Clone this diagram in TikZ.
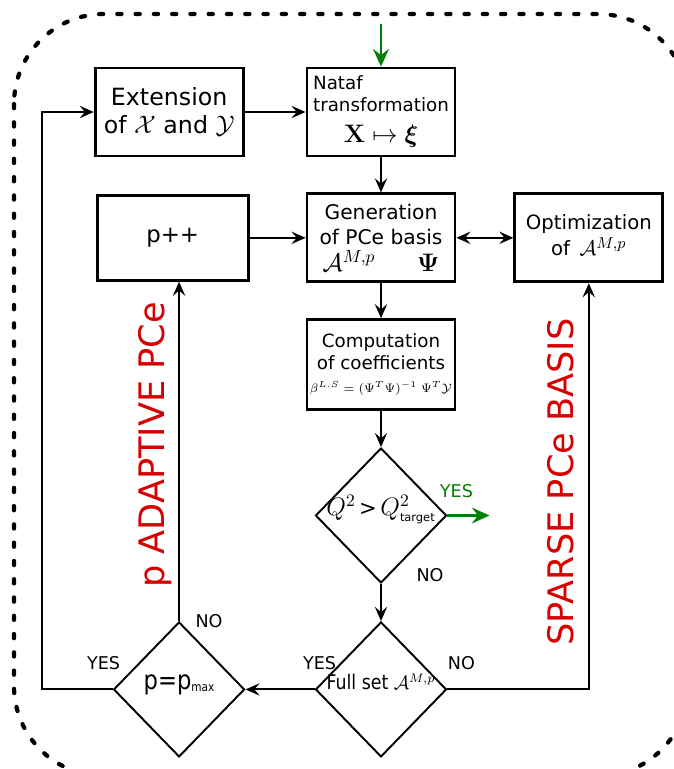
\documentclass[tikz,border=0pt]{standalone}
\usepackage{amsmath,bm}
\usepackage[no-math]{fontspec}
\setmainfont{DejaVu Sans}
\newfontfamily\condfont[FakeStretch=0.86]{DejaVu Sans}
\usepackage{xcolor}
\usetikzlibrary{positioning, shapes.geometric, arrows.meta, calc}
\definecolor{tagred}{RGB}{214,0,0}
\definecolor{yesgreen}{RGB}{0,128,0}
\newcommand{\fixedtext}[1]{\makebox[1.8cm]{\smash{#1}}}

\begin{document}
\begin{tikzpicture}[
    block/.style={rectangle, draw=black, line width=1.6pt, minimum width=2.96cm, minimum height=1.76cm, align=center, inner sep=1pt},
    decision/.style={diamond, draw=black, line width=1.1pt, minimum width=2.62cm, minimum height=2.70cm, aspect=1, inner sep=0pt, align=center},
    arr/.style={line width=1.1pt, -{Stealth[length=8pt, width=7pt, inset=3pt]}},
    biarr/.style={line width=1.1pt, {Stealth[length=8pt, width=7pt, inset=3pt]}-{Stealth[length=8pt, width=7pt, inset=3pt]}},
    greenarr/.style={line width=1.7pt, yesgreen, -{Stealth[length=10pt, width=9pt, inset=3.5pt]}},
    lbl/.style={font=\fontsize{10}{11}\selectfont, inner sep=0pt},
    tag/.style={font=\fontsize{20}{22}\selectfont, text=tagred, rotate=90},
    node distance=0.70cm and 1.15cm
]
    \useasboundingbox (0,0) rectangle (13.48,-15.38);
    \begin{scope}
        \clip (0,0) rectangle (13.48,-15.38);
        \draw[line width=2.4pt, dash pattern=on 2.4pt off 8pt, line cap=round, rounded corners=1.8cm] (0.28,-0.28) rectangle (13.76,-15.52);
    \end{scope}

    % boxes
    \node[block, font=\fontsize{10.4}{12.5}\selectfont] (nataf) at (7.62,-2.24) {\begin{tabular}{@{}l@{}}Nataf\\transformation\\[4pt]\multicolumn{1}{@{}c@{}}{\fontsize{15}{16}\selectfont$\mathbf{X}\mapsto\bm{\xi}$}\end{tabular}};
    \node[block, left=1.22cm of nataf, font=\fontsize{13.5}{16}\selectfont] (ext) {Extension\\of $\mathcal{X}$ and $\mathcal{Y}$};
    \node[block, below=of nataf, font=\fontsize{11.5}{14.5}\selectfont] (gen) {Generation\\of PCe basis\\[1pt]{\fontsize{14}{16}\selectfont$\mathcal{A}^{M,p}\hspace{1.7em}\mathbf{\Psi}$}};
    \node[block, left=1.12cm of gen, minimum width=3.02cm, minimum height=1.70cm, font=\fontsize{13}{15}\selectfont] (pinc) {p++};
    \node[block, right=1.14cm of gen, font=\fontsize{11.2}{14}\selectfont] (opt) {\raisebox{4pt}{\begin{tabular}{@{}c@{}}Optimization\\of\, {\fontsize{13}{15}\selectfont$\mathcal{A}^{M,p}$}\end{tabular}}};
    \node[block, below=of gen, minimum height=1.80cm, font=\fontsize{10.4}{12.5}\selectfont] (comp) {Computation\\of coefficients\\[1pt]{\fontsize{7}{9}\selectfont$\beta^{L.S}=(\Psi^T\Psi)^{-1}\;\Psi^T\mathcal{Y}$}};

    % decisions
    \node[decision, below=0.72cm of comp, font=\fontsize{12}{13}\selectfont] (qtest) {\fixedtext{{\fontsize{14}{15}\selectfont$Q^2$}\,>\,{\fontsize{14}{15}\selectfont$Q^2_{\text{\fontsize{6.5}{8}\selectfont target}}$}}};
    \node[decision, below=0.74cm of qtest, font=\condfont\fontsize{11.5}{13}\selectfont] (full) {\fixedtext{Full set {\fontsize{10.5}{12}\selectfont$\mathcal{A}^{M,p}$}}};
    \node[decision, left=1.38cm of full, font=\condfont\fontsize{15}{17}\selectfont] (pmax) {\fixedtext{p=p\raisebox{-1pt}{\fontsize{7}{8}\selectfont max}}};

    % free ends
    \coordinate[above=0.86cm of nataf.north] (src);
    \coordinate[right=0.84cm of qtest.east] (out);
    \coordinate (loop) at (0.84,0);

    % connectors
    \draw[greenarr] (src) -- (nataf.north);
    \draw[arr] (ext) -- (nataf);
    \draw[arr] (nataf) -- (gen);
    \draw[arr] (pinc) -- (gen);
    \draw[biarr] (gen) -- (opt);
    \draw[arr] (gen) -- (comp);
    \draw[arr] (comp) -- (qtest);
    \draw[arr] (qtest) -- (full);
    \draw[greenarr] (qtest.east) -- (out);
    \draw[arr] (full) -- (pmax);
    \draw[arr] (full.east) -| (opt.south);
    \draw[arr] (pmax.north) -- (pmax.north |- pinc.south);
    \draw[arr] (pmax.west) -- (pmax.west -| loop) |- (ext.west);

    % labels
    \node[lbl, text=yesgreen] (yesq) at ($(qtest.east)+(0.18,0.48)$) {YES};
    \node[lbl] (noq) at ($(qtest.south)+(0.98,0.18)$) {NO};
    \node[lbl] (yesf) at ($(full.west)+(0.10,0.52)$) {YES};
    \node[lbl] (nof) at ($(full.east)+(0.28,0.52)$) {NO};
    \node[lbl] (nop) at ($(pmax.north)+(0.60,0.0)$) {NO};
    \node[lbl] (yesp) at ($(pmax.west)+(-0.18,0.52)$) {YES};

    % side tags
    \node[tag] (adapt) at (3.10,-8.9) {p ADAPTIVE PCe};
    \node[tag] (sparse) at (11.22,-9.64) {SPARSE PCe BASIS};
\end{tikzpicture}
\end{document}
